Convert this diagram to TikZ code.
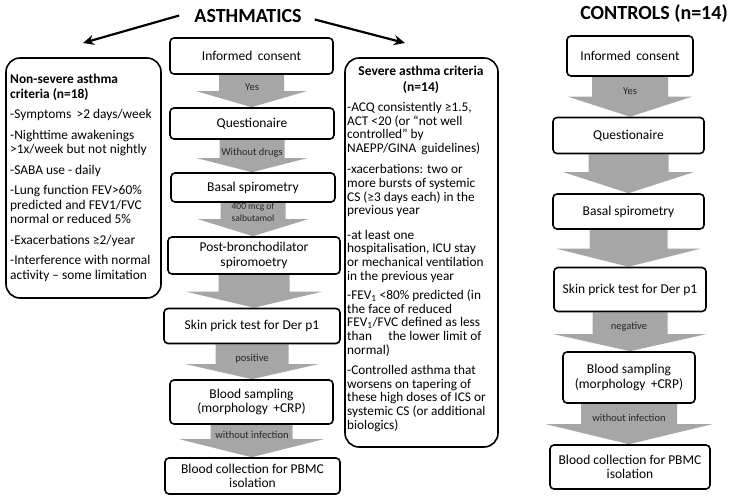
\documentclass[tikz,border=0pt]{standalone}
\usepackage{fontspec}
\setmainfont{Carlito}
\usetikzlibrary{calc,arrows.meta,backgrounds}
\definecolor{gfill}{RGB}{166,166,166}
\definecolor{lblcol}{RGB}{38,38,38}
\newcommand\garrow[5]{%
  \begin{pgfonlayer}{background}
  \fill[gfill] ($(#1.south)+(-#3,0)$) -- ($(#1.south)+(#3,0)$)
    -- ($(#1.south |- #2.north)+(#3,-#5)$) -- ($(#1.south |- #2.north)+(#4,-#5)$)
    -- (#1.south |- #2.north)
    -- ($(#1.south |- #2.north)+(-#4,-#5)$) -- ($(#1.south |- #2.north)+(-#3,-#5)$) -- cycle;
  \end{pgfonlayer}}
\begin{document}
\begin{tikzpicture}[x=1pt,y=-1pt,
  box/.style={draw=black, line width=1.6pt, rounded corners=4pt, fill=white, align=center,
    font=\fontsize{13.5}{14.5}\selectfont, inner sep=0pt},
  bigbox/.style={draw=black, line width=1.6pt, rounded corners=14pt, inner sep=0pt},
  crit/.style={align=left, inner sep=0pt, anchor=north west},
  lbl/.style={font=\fontsize{10.5}{11.5}\selectfont, text=lblcol, inner sep=0pt, align=center},
  ttl/.style={font=\fontsize{20}{24}\selectfont\bfseries, inner sep=0pt, anchor=base},
  tarrow/.style={line width=2.2pt, -{Stealth[length=11pt,width=10pt]}}]
\useasboundingbox (0,0) rectangle (731,500);

% titles
\node[ttl] (ast) at (248,23) {ASTHMATICS};
\node[ttl] (ctl) at (654,20) {CONTROLS (n=14)};

% criteria boxes
\node[bigbox, minimum width=155pt, minimum height=240pt] (nsbox) at (83.5,178) {};
\node[bigbox, minimum width=153pt, minimum height=389pt] (svbox) at (421.5,252.5) {};

\node[crit, font=\fontsize{13.4}{14.6}\selectfont] (nstext) at (10,74) {%
\textbf{Non-severe asthma}\\ \textbf{criteria (n=18)}\\[5.8pt]
-Symptoms \,>2 days/week\\[5.8pt]
-Nighttime awakenings\\ >1x/week but not nightly\\[5.8pt]
-SABA use - daily\\[5.8pt]
-Lung function FEV>60\%\\ predicted and FEV1/FVC\\ normal or reduced 5\%\\[5.8pt]
-Exacerbations ≥2/year\\[5.8pt]
-Interference with normal\\ activity – some limitation};

\node[font=\fontsize{13.5}{15.5}\selectfont\bfseries, align=center, inner sep=0pt, anchor=north] (svtitle) at (421,66) {Severe asthma criteria\\(n=14)};
\node[crit, font=\fontsize{13.3}{13.6}\selectfont] (svtext) at (347,102) {%
-ACQ consistently ≥1.5,\\ ACT <20 (or “not well\\ controlled” by\\ NAEPP/GINA \,guidelines)\\[8pt]
-xacerbations: two or\\ more bursts of systemic\\ CS (≥3 days each) in the\\ previous year\\[11pt]
-at least one\\ hospitalisation, ICU stay\\ or mechanical ventilation\\ in the previous year\\[6pt]
-FEV\textsubscript{1} <80\% predicted (in\\ the face of reduced\\ FEV\textsubscript{1}/FVC defined as less\\ than \quad the lower limit of\\ normal)\\[7pt]
-Controlled asthma that\\ worsens on tapering of\\ these high doses of ICS or\\ systemic CS (or additional\\ biologics)};

% title arrows
\coordinate (nsin) at (83,43);
\coordinate (svin) at (405,43);
\draw[tarrow] ($(ast.west)+(-15,-1)$) -- (nsin);
\draw[tarrow] ($(ast.east)+(13,3)$) -- (svin);

% asthmatics column
\node[box, minimum width=163pt, minimum height=36pt] (ic1) at (251.5,56) {Informed \,consent};
\node[box, minimum width=164pt, minimum height=31pt] (q1) at (252,123.5) {Questionaire};
\node[box, minimum width=164pt, minimum height=29pt] (bs1) at (253,187.5) {Basal spirometry};
\node[box, minimum width=172pt, minimum height=37pt] (pb1) at (254,255.5) {Post-bronchodilator\\spiromoetry};
\node[box, minimum width=176pt, minimum height=35pt] (sp1) at (252,326) {Skin prick test for Der p1};
\node[box, minimum width=163pt, minimum height=44pt] (bl1) at (251.5,402) {Blood sampling\\(morphology \,+CRP)};
\node[box, minimum width=175pt, minimum height=36pt] (bc1) at (252.5,476) {Blood collection for PBMC\\isolation};

\garrow{ic1}{q1}{32.5}{55}{16}
\garrow{q1}{bs1}{32.5}{55}{14}
\garrow{bs1}{pb1}{32.5}{55}{17}
\garrow{pb1}{sp1}{35.5}{68}{16}
\garrow{sp1}{bl1}{36.5}{66}{15}
\garrow{bl1}{bc1}{41}{72}{18}

\node[lbl] (l1) at (252,87) {Yes};
\node[lbl] (l2) at (252,153) {Without drugs};
\node[lbl, font=\fontsize{9.5}{12}\selectfont] (l3) at (253,212) {400 mcg of\\salbutamol};
\node[lbl] (l5) at (252,359) {positive};
\node[lbl] (l6) at (252,435) {without infection};

% controls column
\node[box, minimum width=126pt, minimum height=40pt] (ic2) at (630,56) {Informed \,consent};
\node[box, minimum width=151pt, minimum height=36pt] (q2) at (628.5,135.5) {Questionaire};
\node[box, minimum width=151pt, minimum height=35pt] (bs2) at (628.5,211.5) {Basal spirometry};
\node[box, minimum width=152pt, minimum height=44pt] (sp2) at (630,289.5) {Skin prick test for Der p1};
\node[box, minimum width=132pt, minimum height=51pt] (bl2) at (629,377.5) {Blood sampling\\(morphology \,+CRP)};
\node[box, minimum width=160pt, minimum height=44pt] (bc2) at (630,467) {Blood collection for PBMC\\isolation};

\garrow{ic2}{q2}{38}{62}{20}
\garrow{q2}{bs2}{40}{65}{21}
\garrow{bs2}{sp2}{39}{72}{18}
\garrow{sp2}{bl2}{37.5}{76}{17}
\garrow{bl2}{bc2}{48}{83}{20}

\node[lbl] (c1) at (630,91) {Yes};
\node[lbl] (c4) at (629,327) {negative};
\node[lbl] (c5) at (629,418) {without infection};
\end{tikzpicture}
\end{document}
